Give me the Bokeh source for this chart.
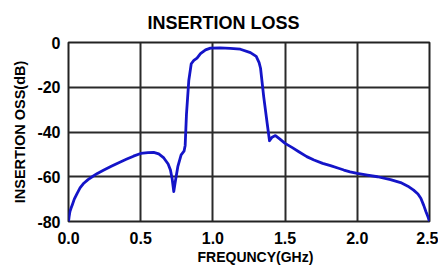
from bokeh.plotting import figure
from bokeh.models import FixedTicker, Range1d, Title, ColumnDataSource
from bokeh.embed import file_html
from bokeh.resources import INLINE

# ---- data ----
freq_ghz = [0.000, 0.005, 0.010, 0.018, 0.026, 0.04, 0.06, 0.08, 0.106, 0.135,
            0.164, 0.20, 0.245, 0.30, 0.348, 0.40, 0.45, 0.50, 0.55, 0.59,
            0.625, 0.66, 0.69, 0.706, 0.718, 0.729, 0.74, 0.757, 0.78, 0.80,
            0.808, 0.817, 0.833, 0.85, 0.868, 0.89, 0.914, 0.949, 0.983, 1.05,
            1.12, 1.19, 1.26, 1.30, 1.32, 1.33, 1.352, 1.376, 1.392, 1.41,
            1.433, 1.46, 1.50, 1.55, 1.595, 1.65, 1.70, 1.76, 1.814, 1.87,
            1.907, 1.95, 2.00, 2.07, 2.14, 2.23, 2.30, 2.35, 2.39, 2.42,
            2.44, 2.46, 2.475, 2.49, 2.50]
loss_db = [-80, -77.5, -75.5, -74, -72.6, -70, -67.4, -65, -62.9, -61.3,
           -60, -58.5, -57, -55.2, -53.7, -52.2, -50.8, -49.6, -49.2, -49.1,
           -49.8, -51.6, -54.3, -57, -61, -66.6, -62, -55.5, -50.2, -48.6,
           -46, -32, -17, -9.5, -8, -7, -5, -3.3, -2.5, -2.4,
           -2.6, -3.0, -4.5, -6.2, -9, -11.5, -24.3, -36.2, -43.9, -42.3,
           -41.6, -43, -45.1, -47, -48.8, -51, -52.5, -54, -55, -56.2,
           -57, -57.8, -58.5, -59.3, -60, -61.3, -62.6, -64.2, -66, -67.7,
           -69.6, -72.8, -75.5, -78, -80]

x_ticks = [0.0, 0.5, 1.0, 1.5, 2.0, 2.5]
x_tick_labels = ["0.0", "0.5", "1.0", "1.5", "2.0", "2.5"]
y_ticks = [-80, -60, -40, -20, 0]
y_tick_labels = ["-80", "-60", "-40", "-20", "0"]

title_text = "INSERTION LOSS"
x_label = "FREQUNCY(GHz)"
y_label = "INSERTION OSS(dB)"

FONT = "Liberation Sans"

p = figure(width=438, height=270, output_backend="svg", toolbar_location=None,
           x_range=Range1d(0, 2.5), y_range=Range1d(-80, 0),
           min_border_left=68, min_border_right=9, min_border_top=42,
           min_border_bottom=49)
p.background_fill_color = "white"
p.border_fill_color = "white"
p.outline_line_color = "#222222"
p.outline_line_width = 2

src = ColumnDataSource(dict(f=freq_ghz, db=loss_db))
p.line("f", "db", source=src, line_color="#1414c8", line_width=2.8,
       line_join="round")

# grid
for g in (p.xgrid, p.ygrid):
    g.grid_line_color = "#2a2a2a"
    g.grid_line_width = 2

# axes
p.xaxis.ticker = FixedTicker(ticks=x_ticks)
p.xaxis.major_label_overrides = dict(zip(x_ticks, x_tick_labels))
p.yaxis.ticker = FixedTicker(ticks=y_ticks)
p.yaxis.major_label_overrides = dict(zip(y_ticks, y_tick_labels))
for ax in (p.xaxis, p.yaxis):
    ax.axis_line_color = None
    ax.major_tick_line_color = None
    ax.minor_tick_line_color = None
    ax.major_tick_out = 0
    ax.major_tick_in = 0
    ax.major_label_text_font = FONT
    ax.major_label_text_font_style = "bold"
    ax.major_label_text_font_size = "16px"
    ax.major_label_text_color = "black"
p.xaxis.major_label_standoff = 10
p.yaxis.major_label_standoff = 8

p.yaxis.axis_label = y_label
p.yaxis.axis_label_text_font = FONT
p.yaxis.axis_label_text_font_style = "bold"
p.yaxis.axis_label_text_font_size = "14.5px"
p.yaxis.axis_label_text_color = "black"
p.yaxis.axis_label_standoff = 6

xt = Title(text=x_label, align="left", offset=129, text_font=FONT,
           text_font_style="bold", text_font_size="14px", text_color="black",
           standoff=0)
p.add_layout(xt, "below")

tt = Title(text=title_text, align="left", offset=79, text_font=FONT,
           text_font_style="bold", text_font_size="18px", text_color="black",
           standoff=19)
p.add_layout(tt, "above")

open("out.html", "w").write(file_html(p, INLINE))
